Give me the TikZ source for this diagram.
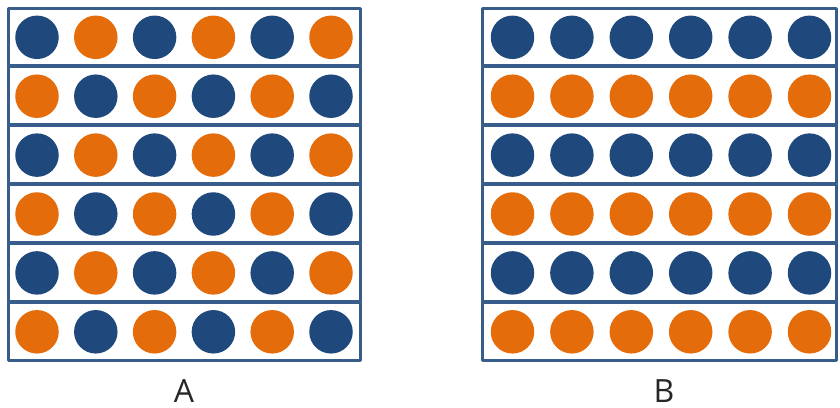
\documentclass[tikz,border=0pt]{standalone}
\usepackage{fontspec}
\setmainfont{Open Sans}
\definecolor{dblue}{HTML}{1F497D}
\definecolor{orng}{HTML}{E46C0A}
\definecolor{edge}{HTML}{385D8A}
\begin{document}
\begin{tikzpicture}[x=1pt,y=-1pt,
  rowbox/.style={draw=edge,line width=3pt,line join=round},
  dot/.style={circle,inner sep=0pt,minimum size=43.5pt},
  bdot/.style={dot,fill=dblue},
  odot/.style={dot,fill=orng},
  lbl/.style={font=\fontsize{32}{36}\selectfont,text=black!85,inner sep=0pt,text depth=0pt,anchor=base}]
\useasboundingbox (0,0) rectangle (840,407);
% Grid A
\foreach \r in {0,...,5}{
  \pgfmathsetmacro{\ytop}{8+58.9*\r}
  \draw[rowbox] (8,\ytop) rectangle (360.5,\ytop+57.6);
  \foreach \c in {0,...,5}{
    \pgfmathtruncatemacro{\pty}{mod(\r+\c,2)}
    \ifnum\pty=0
      \node[bdot] (a-\r-\c) at (37+58.8*\c,\ytop+29.3) {};
    \else
      \node[odot] (a-\r-\c) at (37+58.8*\c,\ytop+29.3) {};
    \fi
  }
}
% Grid B
\foreach \r in {0,...,5}{
  \pgfmathsetmacro{\ytop}{8+58.9*\r}
  \draw[rowbox] (482.5,\ytop) rectangle (836.5,\ytop+57.6);
  \foreach \c in {0,...,5}{
    \pgfmathtruncatemacro{\pty}{mod(\r,2)}
    \ifnum\pty=0
      \node[bdot] (b-\r-\c) at (512.5+59.4*\c,\ytop+29.3) {};
    \else
      \node[odot] (b-\r-\c) at (512.5+59.4*\c,\ytop+29.3) {};
    \fi
  }
}
\node[lbl] (la) at (184,402.5) {A};
\node[lbl] (lb) at (664,402.5) {B};
\end{tikzpicture}
\end{document}
